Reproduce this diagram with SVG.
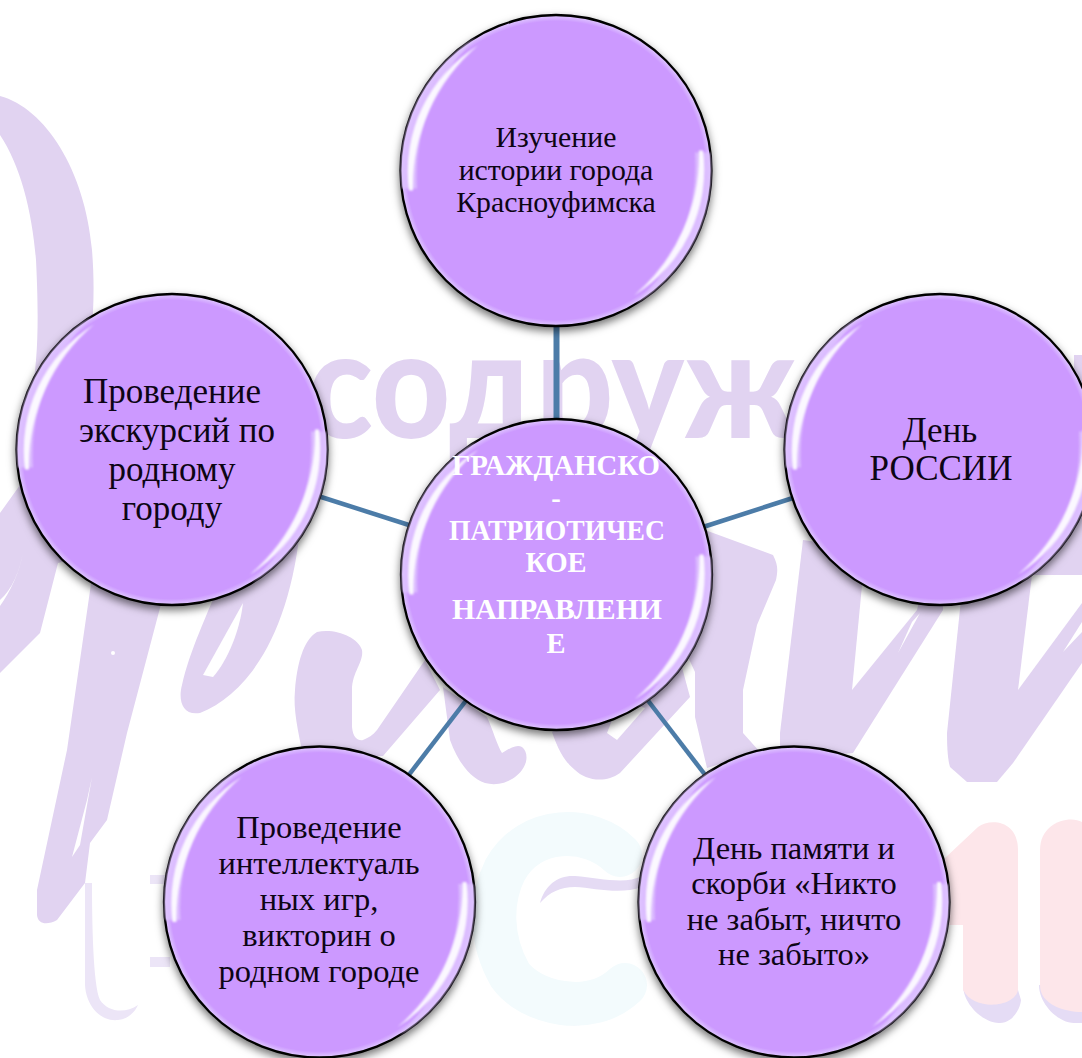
<svg xmlns="http://www.w3.org/2000/svg" xmlns:xlink="http://www.w3.org/1999/xlink" width="1082" height="1058" viewBox="0 0 1082 1058">
<style>
.wm{fill:#e1d3f1}
.wmw{fill:#fff}
.t{font-family:"Liberation Serif","Noto Serif",serif;fill:#0d0514;text-anchor:middle}
.c{font-weight:bold;fill:#fff;font-size:28.5px}
.s28{font-size:29.8px}
.s33{font-size:35px}
.s35{font-size:35px}
.s32{font-size:32.5px}
.conn{stroke:#4c7ca8;fill:none;stroke-linecap:butt}
</style>
<defs>
<radialGradient id="face" cx="50%" cy="50%" r="50%">
<stop offset="0" stop-color="#cc99ff"/>
<stop offset="0.96" stop-color="#cc99ff"/>
<stop offset="0.985" stop-color="#d9b8ff"/>
<stop offset="1" stop-color="#e2c9ff"/>
</radialGradient>
<filter id="shadow" x="-15%" y="-15%" width="130%" height="130%">
<feDropShadow dx="0" dy="4" stdDeviation="4.5" flood-color="#000" flood-opacity="0.55"/>
</filter>
<filter id="soft" x="-20%" y="-20%" width="140%" height="140%"><feGaussianBlur stdDeviation="1"/></filter>
<filter id="wblur" x="-5%" y="-5%" width="110%" height="110%"><feGaussianBlur stdDeviation="0.7"/></filter>
<g id="bubble">
<circle r="155.5" fill="url(#face)" stroke="#000" stroke-width="2.3" filter="url(#shadow)"/>
<path d="M-154 18A155 155 0 0 1 -80 -133A190 190 0 0 0 -139 18Z" fill="#dfc4ff" opacity=".8" filter="url(#soft)"/>
<path d="M154 -18A155 155 0 0 1 80 133A190 190 0 0 0 139 -18Z" fill="#dfc4ff" opacity=".8" filter="url(#soft)"/>
<path d="M-147 20A148 148 0 0 1 -78 -125A185 185 0 0 0 -143 20Z" fill="#fff" opacity=".9" filter="url(#soft)"/>
<path d="M147 -20A148 148 0 0 1 78 125A185 185 0 0 0 143 -20Z" fill="#fff" opacity=".9" filter="url(#soft)"/>
</g>
</defs>
<rect width="1082" height="1058" fill="#fff"/>
<g id="watermark" filter="url(#wblur)">
<path class="wm" d="M0 96C45 108 85 170 92 250C96 300 92 340 84 400L30 400C40 360 38 300 36 260C32 210 20 165 0 135Z"/>
<path class="wm" d="M0 513L20 485L70 560L58 563L40 633L0 673Z"/>
<path class="wmw" d="M0 606C10 592 20 572 23 552C20 570 12 590 0 600Z"/>
<path class="wm" d="M93 570L170 570L127 733L107 820L90 843L85 883L57 920C48 925 38 925 37 915L37 890L67 750Z"/>
<path class="wmw" d="M92 777L87 800L72 857L80 845Z"/>
<circle class="wmw" cx="113" cy="653" r="2"/>
<path class="wm" d="M225 570L300 530C288 640 245 695 200 713C182 716 178 700 182 685C190 650 205 620 225 570Z"/>
<path class="wmw" d="M243 603L203 675L213 677C228 660 240 630 243 603Z"/>
<path class="wm" d="M317 632C335 628 358 637 362 650C364 662 352 672 352 690L352 727C353 738 358 741 363 740C368 738 373 735 377 730L425 660L440 690L383 756L303 756C298 730 293 710 295 690C297 665 303 640 317 632Z"/>
<path class="wm" d="M443 687L450 740C458 762 470 778 485 783C500 787 515 780 522 770C528 762 528 752 522 747C517 744 510 748 502 753C497 745 493 730 487 717Z"/>
<path class="wm" d="M552 732C558 750 565 762 575 770C585 780 605 784 620 773L690 697L680 660L600 700Z"/>
<path class="wmw" d="M607 733L617 740L645 708L620 700Z"/>
<path class="wm" d="M705 530L773 555C778 565 778 570 776 580L757 625L743 690L743 733L760 752L707 768L695 717L695 672L680 640Z"/>
<path class="wm" d="M803 540L780 733L780 760L853 753L943 610L943 560Z"/>
<path class="wmw" d="M863 575L852 690L917 610L925 575Z"/>
<path class="wmw" d="M898 653L920 613L912 622Z"/>
<path class="wm" d="M962 590L947 733C947 750 948 760 950 767L967 782L997 782L1013 763L1082 663L1082 500L1000 560Z"/>
<path class="wmw" d="M1032 575L1018 690L1082 603L1082 575Z"/>
<path class="wmw" d="M1063 652L1082 632L1082 622Z"/>
<text x="307" y="438" font-family="Lato,'Noto Sans',sans-serif" font-weight="900" font-size="150" textLength="490" lengthAdjust="spacingAndGlyphs" class="wm">содруж</text>
<rect class="wm" x="1074" y="355" width="8" height="85"/>
<path d="M85 883L85 985C86 1005 100 1022 118 1020C128 1019 135 1012 138 1005C125 1014 108 1012 100 1000C93 985 92 920 92 883Z" fill="#ece5f7"/>
<rect x="150" y="875" width="20" height="9" fill="#ece5f7"/>
<rect x="150" y="957" width="20" height="10" fill="#ece5f7"/>
<path d="M480 935C492 980 520 1018 570 1025C600 1028 630 1005 642 990C620 1005 590 1012 560 1010C520 1005 495 975 480 935Z" fill="#e8e0f6"/>
<path d="M620 855C590 825 530 825 505 870C490 900 490 940 510 975C530 1003 590 1018 625 985" fill="none" stroke="#f3fbfd" stroke-width="44" stroke-linecap="round"/>
<path d="M540 903C545 885 558 875 575 876C600 878 625 885 642 876L642 887C620 895 595 888 575 887C560 887 550 892 540 903Z" fill="#e5dbf4"/>
<path d="M963 985C963 1005 985 1024 1000 1023C1012 1023 1020 1010 1021 1000L1018 990Z" fill="#e5dcf5"/>
<path d="M1039 985C1039 1005 1060 1024 1075 1023L1082 1023L1082 990Z" fill="#e5dcf5"/>
<path d="M945 858L978 827C990 818 1018 820 1018 850L1018 990C1015 1007 975 1012 963 990L963 925L945 925Z" fill="#fde6ea"/>
<path d="M1040 850C1040 822 1070 815 1082 822L1082 1012C1065 1012 1040 1005 1040 985Z" fill="#fde6ea"/>
</g>
<g id="connectors">
<line class="conn" stroke-width="6" x1="556.5" y1="320" x2="556.5" y2="422"/>
<line class="conn" stroke-width="4.5" x1="318" y1="496" x2="412" y2="526"/>
<line class="conn" stroke-width="4.5" x1="700" y1="528" x2="796" y2="497"/>
<line class="conn" stroke-width="4.5" x1="468" y1="698" x2="408" y2="776"/>
<line class="conn" stroke-width="4.5" x1="646" y1="698" x2="706" y2="776"/>
</g>
<g id="node-top">
<use xlink:href="#bubble" href="#bubble" x="556" y="170.5"/>
<text class="t s28" x="556" y="147">Изучение</text>
<text class="t s28" x="556" y="180">истории города</text>
<text class="t s28" x="556" y="212">Красноуфимска</text>
</g>
<g id="node-center">
<use xlink:href="#bubble" href="#bubble" x="556.5" y="574.5"/>
<text class="t c" x="556" y="475" textLength="208" lengthAdjust="spacingAndGlyphs">ГРАЖДАНСКО</text>
<text class="t c" x="556" y="508">-</text>
<text class="t c" x="557" y="540" textLength="216" lengthAdjust="spacingAndGlyphs">ПАТРИОТИЧЕС</text>
<text class="t c" x="556" y="572">КОЕ</text>
<text class="t c" x="557" y="619" textLength="210" lengthAdjust="spacingAndGlyphs">НАПРАВЛЕНИ</text>
<text class="t c" x="556" y="653">Е</text>
</g>
<g id="node-left">
<use xlink:href="#bubble" href="#bubble" x="172" y="449.5"/>
<text class="t s33" x="172" y="403">Проведение</text>
<text class="t s33" x="177" y="442">экскурсий по</text>
<text class="t s33" x="172" y="481">родному</text>
<text class="t s33" x="172" y="520">городу</text>
</g>
<g id="node-right">
<use xlink:href="#bubble" href="#bubble" x="940" y="449.5"/>
<text class="t s35" x="940" y="442">День</text>
<text class="t s35" x="941" y="480">РОССИИ</text>
</g>
<g id="node-bottom-left">
<use xlink:href="#bubble" href="#bubble" x="319.5" y="902"/>
<text class="t s32" x="319" y="838">Проведение</text>
<text class="t s32" x="319" y="874">интеллектуаль</text>
<text class="t s32" x="319" y="910">ных игр,</text>
<text class="t s32" x="319" y="946">викторин о</text>
<text class="t s32" x="319" y="982">родном городе</text>
</g>
<g id="node-bottom-right">
<use xlink:href="#bubble" href="#bubble" x="794" y="902"/>
<text class="t s32" x="794" y="859">День памяти и</text>
<text class="t s32" x="794" y="894">скорби «Никто</text>
<text class="t s32" x="794" y="930">не забыт, ничто</text>
<text class="t s32" x="794" y="965">не забыто»</text>
</g>
</svg>
